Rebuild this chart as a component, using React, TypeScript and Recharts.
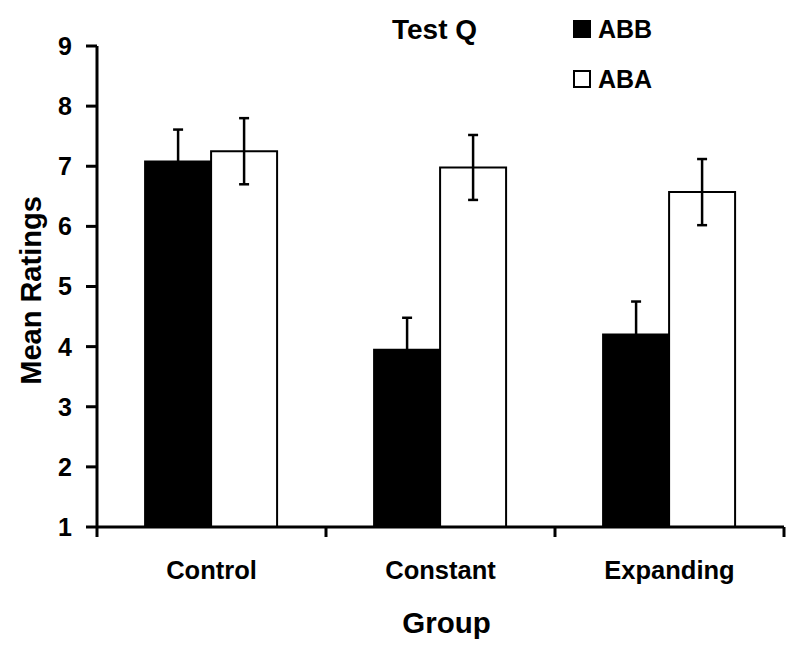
import { BarChart, Bar, XAxis, YAxis, ErrorBar, Legend, Label } from "recharts";

const groups = ["Control", "Constant", "Expanding"];
const abbMeans = [7.08, 3.95, 4.2];
const abbErrors = [0.53, 0.53, 0.55];
const abaMeans = [7.25, 6.98, 6.57];
const abaErrors = [0.55, 0.54, 0.55];
const yTicks = [1, 2, 3, 4, 5, 6, 7, 8, 9];
const seriesNames = ["ABB", "ABA"];
const chartTitle = "Test Q";

const data = groups.map((g, i) => ({
  group: g,
  abb: abbMeans[i],
  abbErr: abbErrors[i],
  aba: abaMeans[i],
  abaErr: abaErrors[i],
}));

const FONT = '"Liberation Sans", Arial, Helvetica, sans-serif';

function GroupTick(props: any) {
  const { x, y, payload, index, visibleTicksCount, width } = props;
  const half = width / visibleTicksCount / 2;
  return (
    <g>
      <line x1={x - half} x2={x - half} y1={y} y2={y + 10} stroke="#000" strokeWidth={3} />
      {index === visibleTicksCount - 1 && (
        <line x1={x + half} x2={x + half} y1={y} y2={y + 10} stroke="#000" strokeWidth={3} />
      )}
      <text x={x} y={y + 52} textAnchor="middle" fill="#000" fontSize={25.5} fontWeight={700} fontFamily={FONT}>
        {payload.value}
      </text>
    </g>
  );
}

function renderLegend(props: any) {
  // keep the series order (recharts sorts legend items by name)
  const payload = [...(props.payload || [])].sort(
    (a: any, b: any) => seriesNames.indexOf(a.value) - seriesNames.indexOf(b.value)
  );
  return (
    <div style={{ position: "relative", width: 800, height: 0, fontFamily: FONT, fontWeight: 700, color: "#000" }}>
      <div style={{ position: "absolute", left: 392, top: 16, fontSize: 28, lineHeight: "28px", whiteSpace: "nowrap" }}>
        {chartTitle}
      </div>
      {payload.map((entry: any, i: number) => {
        const fill = entry.payload?.fill ?? entry.color;
        return (
          <div
            key={entry.value}
            style={{ position: "absolute", left: 573, top: 17 + i * 50, display: "flex", alignItems: "flex-start", fontSize: 25, lineHeight: "25px" }}
          >
            <span
              style={{
                display: "inline-block",
                boxSizing: "border-box",
                width: 18,
                height: 18,
                marginTop: 3,
                marginRight: 7,
                background: fill,
                border: "2.5px solid #000",
              }}
            />
            <span>{entry.value}</span>
          </div>
        );
      })}
    </div>
  );
}

export default function App() {
  return (
    <div style={{ position: "absolute", left: 0, top: 0, width: 800, height: 650, background: "#fff" }}>
      <BarChart
        width={800}
        height={650}
        data={data}
        margin={{ top: 46, right: 16, bottom: 63, left: 0 }}
        barCategoryGap="21%"
        barGap={0}
      >
        <XAxis
          dataKey="group"
          height={60}
          axisLine={{ stroke: "#000", strokeWidth: 3 }}
          tickLine={false}
          tickSize={0}
          tickMargin={0}
          tick={<GroupTick />}
          interval={0}
        >
          <Label
            content={(p: any) => {
              const vb = p.viewBox;
              return (
                <text x={vb.x + vb.width / 2 + 6} y={633} textAnchor="middle" fill="#000" fontSize={29.5} fontWeight={700} fontFamily={FONT}>
                  Group
                </text>
              );
            }}
          />
        </XAxis>
        <YAxis
          width={97}
          domain={[1, 9]}
          ticks={yTicks}
          interval={0}
          axisLine={{ stroke: "#000", strokeWidth: 3 }}
          tickLine={{ stroke: "#000", strokeWidth: 3 }}
          tickSize={11}
          tickMargin={14}
          tick={{ fill: "#000", fontSize: 25, fontWeight: 700, fontFamily: FONT }}
        >
          <Label
            content={(p: any) => {
              const vb = p.viewBox;
              const cy = vb.y + vb.height / 2 + 4;
              return (
                <text
                  x={41}
                  y={cy}
                  transform={`rotate(-90, 41, ${cy})`}
                  textAnchor="middle"
                  fill="#000"
                  fontSize={29}
                  fontWeight={700}
                  fontFamily={FONT}
                >
                  Mean Ratings
                </text>
              );
            }}
          />
        </YAxis>
        <Legend layout="horizontal" verticalAlign="middle" align="center" content={renderLegend} wrapperStyle={{ left: 0, top: 0, width: 800, height: 0 }} />
        <Bar dataKey="abb" name={seriesNames[0]} fill="#000" stroke="#000" strokeWidth={2} isAnimationActive={false}>
          <ErrorBar dataKey="abbErr" width={5} stroke="#000" strokeWidth={2.5} />
        </Bar>
        <Bar dataKey="aba" name={seriesNames[1]} fill="#fff" stroke="#000" strokeWidth={2} isAnimationActive={false}>
          <ErrorBar dataKey="abaErr" width={5} stroke="#000" strokeWidth={2.5} />
        </Bar>
      </BarChart>
    </div>
  );
}
